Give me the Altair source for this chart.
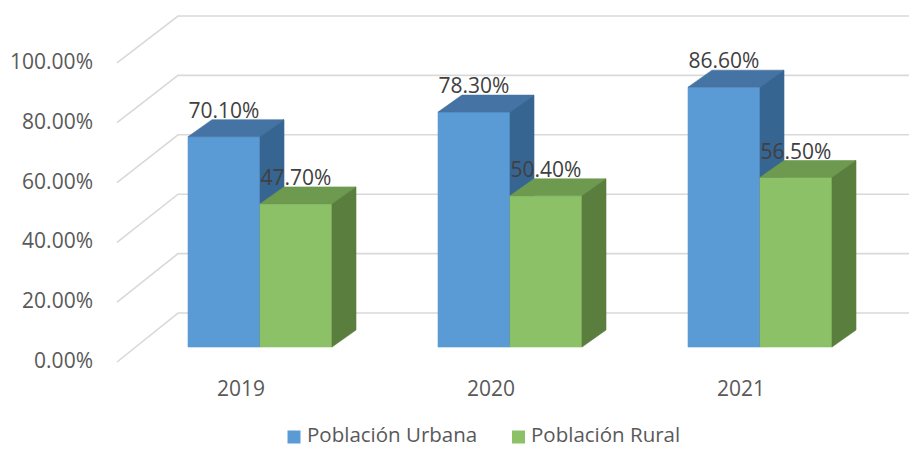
import altair as alt
import pandas as pd

# ---- data ----
years = ["2019", "2020", "2021"]
series = ["Población Urbana", "Población Rural"]
urbana = [70.1, 78.3, 86.6]
rural = [47.7, 50.4, 56.5]
ticks = [0, 20, 40, 60, 80, 100]

front_colors = ["#5B9BD5", "#8CC168"]
top_colors = ["#4573A3", "#6E9A4F"]
side_colors = ["#376591", "#5A7E3E"]

# ---- geometry (x in category units, y in percent units) ----
W, H = 901, 440
XMIN, XMAX = -1.008, 2.596
YMIN, YMAX = -101 / 3, 113.0
BAR_W = 0.288
DX, DY = 0.096, 17 / 3
FONT = "Open Sans"

XS = alt.Scale(domain=[XMIN, XMAX], nice=False, zero=False)
YS = alt.Scale(domain=[YMIN, YMAX], nice=False, zero=False)


def xq(f):
    return alt.X(f"{f}:Q", scale=XS, axis=None)


def yq(f):
    return alt.Y(f"{f}:Q", scale=YS, axis=None)


def axis_p(v):
    return -5 + v * 0.997


def back_p(v):
    return 11.33 + v * 0.99


# gridlines
grid_rows = []
for v in ticks:
    pts = [(-0.572, axis_p(v)), (-0.328, back_p(v)), (XMAX, back_p(v))]
    for k, (x, y) in enumerate(pts):
        grid_rows.append({"x": x, "y": y, "lvl": v, "k": k})
grid_df = pd.DataFrame(grid_rows)

grid = alt.Chart(grid_df).mark_line(color="#D9D9D9", strokeWidth=1.6).encode(
    x=xq("x"), y=yq("y"), detail="lvl:N", order="k:Q"
)

axis_df = pd.DataFrame(
    {"x": [-0.668] * len(ticks), "y": [axis_p(v) for v in ticks],
     "label": [f"{v:.2f}%" for v in ticks]}
)
axis_labels = alt.Chart(axis_df).mark_text(
    font=FONT, fontSize=21, color="#595959", align="right", baseline="middle"
).encode(x=xq("x"), y=yq("y"), text="label:N")

cat_df = pd.DataFrame(
    {"x": [i - 0.076 for i in range(len(years))], "y": [-14.17] * len(years), "label": years}
)
cat_labels = alt.Chart(cat_df).mark_text(
    font=FONT, fontSize=21, color="#595959", align="center", baseline="middle"
).encode(x=xq("x"), y=yq("y"), text="label:N")

layers = [grid, axis_labels, cat_labels]
label_rows = []
for s, vals in enumerate([urbana, rural]):
    front_rows, face_rows = [], []
    for i, v in enumerate(vals):
        x0 = i - BAR_W + s * BAR_W
        x1 = x0 + BAR_W
        front_rows.append({"x": x0, "x2": x1, "y": 0, "y2": v, "fill": front_colors[s]})
        tid = f"{s}-{i}-top"
        for (x, y, y2) in [
            (x0, v, v), (x0 + DX, v, v + DY), (x1, v, v + DY), (x1 + DX, v + DY, v + DY)
        ]:
            face_rows.append({"x": x, "y": y, "y2": y2, "face": tid, "fill": top_colors[s]})
        sid = f"{s}-{i}-side"
        for (x, y, y2) in [(x1, 0, v), (x1 + DX, DY, v + DY)]:
            face_rows.append({"x": x, "y": y, "y2": y2, "face": sid, "fill": side_colors[s]})
        label_rows.append({"x": (x0 + x1) / 2, "y": v + DY + 0.6, "label": f"{v:.2f}%"})
    front = alt.Chart(pd.DataFrame(front_rows)).mark_rect(strokeWidth=0.6).encode(
        x=xq("x"), x2="x2:Q", y=yq("y"), y2="y2:Q",
        color=alt.Color("fill:N", scale=None), stroke=alt.Stroke("fill:N", scale=None)
    )
    faces = alt.Chart(pd.DataFrame(face_rows)).mark_area(
        orient="vertical", interpolate="linear", strokeWidth=0.6
    ).encode(
        x=xq("x"), y=yq("y"), y2="y2:Q", detail="face:N",
        color=alt.Color("fill:N", scale=None), stroke=alt.Stroke("fill:N", scale=None)
    )
    layers += [front, faces]

value_labels = alt.Chart(pd.DataFrame(label_rows)).mark_text(
    font=FONT, fontSize=21, color="#404040", align="center", baseline="alphabetic"
).encode(x=xq("x"), y=yq("y"), text="label:N")
layers.append(value_labels)

# legend
leg_sq = pd.DataFrame({"x": [0.136, 1.034], "y": [-30.0, -30.0], "fill": front_colors})
leg_tx = pd.DataFrame({"x": [0.188, 1.084], "y": [-31.67, -31.67], "label": series})
legend_sq = alt.Chart(leg_sq).mark_square(size=169, opacity=1).encode(
    x=xq("x"), y=yq("y"), color=alt.Color("fill:N", scale=None)
)
legend_tx = alt.Chart(leg_tx).mark_text(
    font=FONT, fontSize=20.5, color="#595959", align="left", baseline="alphabetic"
).encode(x=xq("x"), y=yq("y"), text="label:N")
layers += [legend_sq, legend_tx]

chart = alt.layer(*layers).properties(
    width=W, height=H, padding=0, autosize="none", background="white"
).configure_view(strokeWidth=0)

chart.save("out.html", embed_options={"renderer": "svg", "actions": False})
